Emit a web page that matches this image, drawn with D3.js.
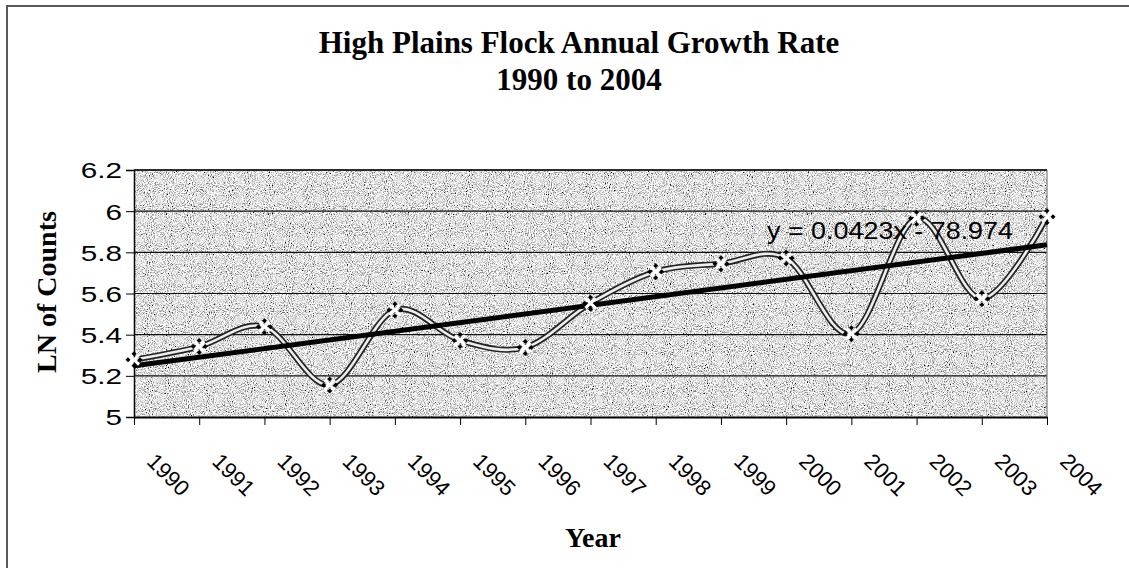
<!DOCTYPE html>
<html>
<head>
<meta charset="utf-8">
<script src="https://cdn.jsdelivr.net/npm/d3@7"></script>
<style>
  html, body { margin: 0; padding: 0; background: #fff; }
  svg { display: block; }
</style>
</head>
<body>
<svg id="chart" width="1129" height="571"></svg>
<script>
// ---- data ----
const years = [1990, 1991, 1992, 1993, 1994, 1995, 1996, 1997, 1998, 1999, 2000, 2001, 2002, 2003, 2004];
const lnCounts = [5.278, 5.342, 5.439, 5.156, 5.52, 5.372, 5.338, 5.553, 5.706, 5.745, 5.772, 5.405, 5.966, 5.575, 5.973];
const yTicks = [5, 5.2, 5.4, 5.6, 5.8, 6, 6.2];
const yTickLabels = ["5", "5.2", "5.4", "5.6", "5.8", "6", "6.2"];
const titleLines = ["High Plains Flock Annual Growth Rate", "1990 to 2004"];
const xAxisTitle = "Year";
const yAxisTitle = "LN of Counts";
const equationLabel = "y = 0.0423x - 78.974";

// ---- layout ----
const svg = d3.select("#chart");
const plot = { left: 134, right: 1047, top: 170, bottom: 417 };

const x = d3.scaleLinear().domain([years[0], years[years.length - 1]]).range([plot.left, plot.right]);
const y = d3.scaleLinear().domain([5, 6.2]).range([plot.bottom, plot.top]);

// outer frame (partial, as in the scan)
svg.append("path")
  .attr("d", "M7,568 V6 H1129")
  .attr("fill", "none").attr("stroke", "#5a5a5a").attr("stroke-width", 2);

// stipple texture filter
const defs = svg.append("defs");
const f = defs.append("filter").attr("id", "stipple")
  .attr("x", 0).attr("y", 0).attr("width", 1).attr("height", 1)
  .attr("filterUnits", "objectBoundingBox");
f.append("feTurbulence").attr("type", "fractalNoise").attr("baseFrequency", 0.95)
  .attr("numOctaves", 2).attr("seed", 3).attr("result", "noise");
f.append("feColorMatrix").attr("in", "noise").attr("type", "matrix")
  .attr("values", "2.5 0 0 0 -0.48  2.5 0 0 0 -0.48  2.5 0 0 0 -0.48  0 0 0 0 1")
  .attr("result", "gray");

svg.append("rect")
  .attr("x", plot.left).attr("y", plot.top)
  .attr("width", plot.right - plot.left).attr("height", plot.bottom - plot.top)
  .attr("fill", "#c2c2c2")
  .attr("filter", "url(#stipple)");

// gridlines
svg.append("g").selectAll("line")
  .data(yTicks.slice(1))
  .join("line")
  .attr("x1", plot.left).attr("x2", plot.right)
  .attr("y1", d => y(d)).attr("y2", d => y(d))
  .attr("stroke", "#111").attr("stroke-width", 1.2);

// plot border
svg.append("line").attr("x1", plot.right).attr("x2", plot.right)
  .attr("y1", plot.top).attr("y2", plot.bottom)
  .attr("stroke", "#666").attr("stroke-width", 1);

// y axis
const yScaleX = 1.35;
const yAxis = d3.axisLeft(y).tickValues(yTicks)
  .tickFormat((d, i) => yTickLabels[i]).tickSize(8).tickPadding(4);
const gy = svg.append("g").attr("transform", `translate(${plot.left},0)`).call(yAxis);
gy.select(".domain").attr("stroke", "#000").attr("stroke-width", 1.5);
gy.selectAll(".tick line").attr("stroke", "#000").attr("stroke-width", 1);
gy.selectAll(".tick text")
  .attr("font-family", "Liberation Sans, Arial, sans-serif")
  .attr("font-size", 22).attr("fill", "#000")
  .attr("x", -12 / yScaleX)
  .attr("dy", "0.36em")
  .attr("transform", `scale(${yScaleX},1)`);

// x axis
const xAxis = d3.axisBottom(x).tickValues(years).tickFormat(d3.format("d")).tickSize(8).tickSizeOuter(0);
const gx = svg.append("g").attr("transform", `translate(0,${plot.bottom})`).call(xAxis);
gx.select(".domain").attr("stroke", "#000").attr("stroke-width", 2);
gx.selectAll(".tick line").attr("stroke", "#000").attr("stroke-width", 1);
gx.selectAll(".tick text")
  .attr("font-family", "Liberation Sans, Arial, sans-serif")
  .attr("font-size", 22).attr("fill", "#000")
  .attr("text-anchor", "start")
  .attr("dy", 0)
  .attr("transform", "translate(19,38) rotate(45)");

// top border of plot
svg.append("line").attr("x1", plot.left).attr("x2", plot.right)
  .attr("y1", plot.top).attr("y2", plot.top)
  .attr("stroke", "#111").attr("stroke-width", 1.5);

// smoothed data line (double stroke)
const pts = years.map((yr, i) => [yr, lnCounts[i]]);
const line = d3.line().x(d => x(d[0])).y(d => y(d[1])).curve(d3.curveCardinal.tension(0));
svg.append("path").datum(pts).attr("d", line)
  .attr("fill", "none").attr("stroke", "#222").attr("stroke-width", 6);
svg.append("path").datum(pts).attr("d", line)
  .attr("fill", "none").attr("stroke", "#eeeeee").attr("stroke-width", 2.6);

// linear trendline (least squares)
const n = years.length;
const mx = d3.mean(years), my = d3.mean(lnCounts);
const slope = d3.sum(years.map((v, i) => (v - mx) * (lnCounts[i] - my))) / d3.sum(years.map(v => (v - mx) ** 2));
const icpt = my - slope * mx;
svg.append("line")
  .attr("x1", x(years[0])).attr("y1", y(icpt + slope * years[0]))
  .attr("x2", x(years[n - 1])).attr("y2", y(icpt + slope * years[n - 1]))
  .attr("stroke", "#000").attr("stroke-width", 5);

// markers: white X with black dots
const mk = svg.append("g").selectAll("g").data(pts).join("g")
  .attr("transform", d => `translate(${x(d[0])},${y(d[1])})`);
mk.append("path").attr("d", "M-5,-5L5,5M-5,5L5,-5")
  .attr("stroke", "#fff").attr("stroke-width", 3);
[[0, -6], [0, 6], [-6, 0], [6, 0]].forEach(([dx, dy]) => {
  mk.append("path")
    .attr("d", `M${dx},${dy - 2.5}L${dx + 2.5},${dy}L${dx},${dy + 2.5}L${dx - 2.5},${dy}Z`)
    .attr("fill", "#000");
});

// equation label
svg.append("text")
  .attr("x", 767).attr("y", 239)
  .attr("font-family", "Liberation Sans, Arial, sans-serif")
  .attr("font-size", 23).attr("fill", "#000")
  .attr("textLength", 246).attr("lengthAdjust", "spacingAndGlyphs")
  .text(equationLabel);

// titles
svg.append("text").attr("x", 579).attr("y", 53).attr("text-anchor", "middle")
  .attr("font-family", "Liberation Serif, Times New Roman, serif")
  .attr("font-weight", "bold").attr("font-size", 31).attr("fill", "#000")
  .text(titleLines[0]);
svg.append("text").attr("x", 579).attr("y", 90).attr("text-anchor", "middle")
  .attr("font-family", "Liberation Serif, Times New Roman, serif")
  .attr("font-weight", "bold").attr("font-size", 31).attr("fill", "#000")
  .text(titleLines[1]);

svg.append("text").attr("x", 593).attr("y", 547).attr("text-anchor", "middle")
  .attr("font-family", "Liberation Serif, Times New Roman, serif")
  .attr("font-weight", "bold").attr("font-size", 28).attr("fill", "#000")
  .text(xAxisTitle);

svg.append("text")
  .attr("transform", "translate(56,292) rotate(-90)")
  .attr("text-anchor", "middle")
  .attr("font-family", "Liberation Serif, Times New Roman, serif")
  .attr("font-weight", "bold").attr("font-size", 28).attr("fill", "#000")
  .text(yAxisTitle);
</script>
</body>
</html>
